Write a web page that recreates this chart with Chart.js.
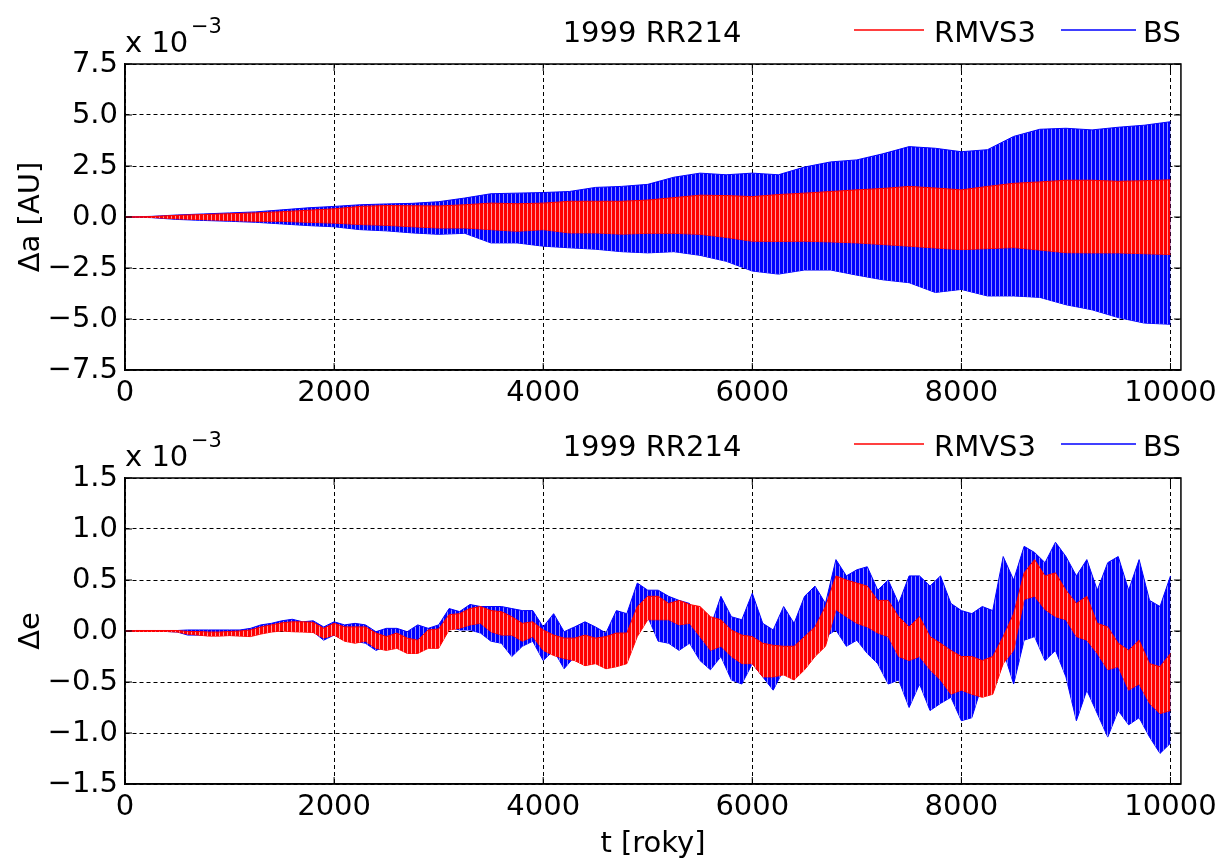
<!DOCTYPE html>
<html>
<head>
<meta charset="utf-8">
<title>1999 RR214</title>
<script src="https://cdn.jsdelivr.net/npm/chart.js@4.4.1/dist/chart.umd.min.js"></script>
<style>
  html, body { margin: 0; padding: 0; background: #fff; }
  #wrap { position: relative; width: 1223px; height: 859px; }
  canvas { position: absolute; left: 0; }
  #topChart { top: 0; }
  #bottomChart { top: 414px; }
</style>
</head>
<body>
<div id="wrap">
  <canvas id="topChart" width="1223" height="414"></canvas>
  <canvas id="bottomChart" width="1223" height="445"></canvas>
</div>
<script>
// ---- data (values in units of 10^-3) ----

// top panel: delta a, envelope of the oscillation every 250 years
const yearsA = [0, 250, 500, 750, 1000, 1250, 1500, 1750, 2000, 2250, 2500, 2750, 3000, 3250, 3500, 3750, 4000, 4250, 4500, 4750, 5000,
	5250, 5500, 5750, 6000, 6250, 6500, 6750, 7000, 7250, 7500, 7750, 8000, 8250, 8500, 8750, 9000, 9250, 9500, 9750, 10000];
const rmvsHiA = [0, 0.02, 0.08, 0.12, 0.16, 0.2, 0.26, 0.33, 0.4, 0.52, 0.56, 0.55, 0.54, 0.6, 0.68, 0.65, 0.68, 0.77, 0.77, 0.77, 0.83,
	0.95, 1.07, 1.05, 1.0, 1.1, 1.17, 1.25, 1.33, 1.4, 1.5, 1.42, 1.33, 1.5, 1.65, 1.72, 1.8, 1.8, 1.75, 1.78, 1.82];
const rmvsLoA = [0, -0.02, -0.09, -0.13, -0.17, -0.21, -0.21, -0.26, -0.3, -0.37, -0.41, -0.48, -0.54, -0.54, -0.62, -0.7, -0.62, -0.78, -0.78, -0.84, -0.8,
	-0.8, -0.85, -1.0, -1.19, -1.2, -1.19, -1.22, -1.27, -1.35, -1.43, -1.52, -1.6, -1.55, -1.5, -1.62, -1.75, -1.76, -1.76, -1.8, -1.84];
const bsHiA = [0, 0.03, 0.1, 0.15, 0.2, 0.25, 0.35, 0.45, 0.52, 0.6, 0.64, 0.67, 0.75, 0.93, 1.14, 1.17, 1.2, 1.25, 1.45, 1.5, 1.6,
	1.95, 2.15, 2.07, 2.15, 2.07, 2.45, 2.7, 2.8, 3.1, 3.45, 3.37, 3.2, 3.3, 3.95, 4.3, 4.35, 4.27, 4.4, 4.5, 4.67];
const bsLoA = [0, -0.03, -0.12, -0.17, -0.21, -0.26, -0.34, -0.42, -0.48, -0.62, -0.68, -0.78, -0.85, -0.8, -1.27, -1.27, -1.43, -1.51, -1.58, -1.7, -1.76,
	-1.7, -1.88, -2.17, -2.65, -2.8, -2.6, -2.6, -2.85, -3.08, -3.22, -3.7, -3.55, -3.87, -3.87, -3.94, -4.3, -4.55, -4.93, -5.2, -5.26];

// bottom panel: delta e, envelope every 100 years
const yearsE = [0, 100, 200, 300, 400, 500, 600, 700, 800, 900, 1000, 1100, 1200, 1300, 1400, 1500, 1600, 1700, 1800, 1900,
	2000, 2100, 2200, 2300, 2400, 2500, 2600, 2700, 2800, 2900, 3000, 3100, 3200, 3300, 3400, 3500, 3600, 3700, 3800, 3900,
	4000, 4100, 4200, 4300, 4400, 4500, 4600, 4700, 4800, 4900, 5000, 5100, 5200, 5300, 5400, 5500, 5600, 5700, 5800, 5900,
	6000, 6100, 6200, 6300, 6400, 6500, 6600, 6700, 6800, 6900, 7000, 7100, 7200, 7300, 7400, 7500, 7600, 7700, 7800, 7900,
	8000, 8100, 8200, 8300, 8400, 8500, 8600, 8700, 8800, 8900, 9000, 9100, 9200, 9300, 9400, 9500, 9600, 9700, 9800, 9900, 10000];
const rmvsHiE = [0, 0.005, 0.005, 0.005, 0.005, 0.005, -0.005, -0.005, -0.01, -0.01, -0.005, 0, 0.01, 0.04, 0.06, 0.08, 0.09, 0.09, 0.085, 0.026,
	0.075, 0.04, 0.04, 0.04, -0.02, -0.055, -0.02, -0.07, -0.09, 0.01, 0.02, 0.16, 0.17, 0.22, 0.24, 0.2, 0.19, 0.14, 0.075, 0.09,
	0.01, -0.04, -0.07, -0.07, -0.04, -0.07, -0.055, -0.02, -0.02, 0.24, 0.34, 0.34, 0.27, 0.3, 0.26, 0.24, 0.14, 0.11, 0.01, -0.04,
	-0.055, -0.12, -0.14, -0.15, -0.15, -0.055, 0.04, 0.24, 0.54, 0.5, 0.47, 0.44, 0.3, 0.3, 0.14, 0.04, 0.14, -0.055, -0.12, -0.19,
	-0.25, -0.25, -0.29, -0.25, -0.055, 0.17, 0.57, 0.7, 0.54, 0.57, 0.4, 0.27, 0.34, 0.075, 0.04, -0.12, -0.19, -0.09, -0.32, -0.35, -0.22];
const rmvsLoE = [0, -0.005, -0.005, -0.005, -0.005, -0.01, -0.03, -0.04, -0.05, -0.05, -0.045, -0.05, -0.055, -0.03, -0.01, 0, -0.007, -0.01, -0.015, -0.07,
	-0.04, -0.1, -0.12, -0.1, -0.17, -0.19, -0.17, -0.22, -0.22, -0.17, -0.17, 0.01, 0.026, 0.06, 0.075, -0.007, -0.04, -0.04, -0.1, -0.055,
	-0.19, -0.24, -0.27, -0.29, -0.34, -0.32, -0.37, -0.35, -0.32, -0.055, 0.11, 0.11, 0.11, 0.06, 0.075, -0.055, -0.19, -0.15, -0.25, -0.32,
	-0.32, -0.45, -0.45, -0.43, -0.48, -0.38, -0.25, -0.15, 0.21, 0.14, 0.075, 0.04, -0.02, -0.055, -0.25, -0.29, -0.25, -0.38, -0.48, -0.62,
	-0.58, -0.62, -0.65, -0.62, -0.32, -0.19, 0.31, 0.34, 0.21, 0.14, 0.11, -0.055, -0.09, -0.22, -0.38, -0.35, -0.58, -0.52, -0.71, -0.81, -0.78];
const bsHiE = [0, 0.005, 0.005, 0.005, 0.005, 0.005, 0.01, 0.01, 0.01, 0.01, 0.01, 0.01, 0.026, 0.06, 0.075, 0.1, 0.115, 0.09, 0.1, 0.04,
	0.09, 0.06, 0.075, 0.06, -0.007, 0.026, 0.026, -0.007, 0.06, 0.026, 0.06, 0.22, 0.19, 0.26, 0.24, 0.24, 0.24, 0.22, 0.2, 0.2,
	0.04, 0.17, -0.007, 0.04, 0.09, 0.04, -0.02, 0.2, 0.17, 0.47, 0.4, 0.4, 0.34, 0.3, 0.27, 0.14, 0.04, 0.34, 0.14, 0.11,
	0.37, 0.075, 0.01, 0.24, 0.075, 0.34, 0.44, 0.27, 0.7, 0.54, 0.6, 0.63, 0.4, 0.5, 0.27, 0.54, 0.54, 0.44, 0.54, 0.27,
	0.2, 0.17, 0.24, 0.2, 0.73, 0.5, 0.83, 0.77, 0.67, 0.87, 0.73, 0.54, 0.7, 0.4, 0.67, 0.73, 0.4, 0.7, 0.3, 0.24, 0.54];
const bsLoE = [0, -0.005, -0.005, -0.005, -0.005, -0.01, -0.04, -0.04, -0.04, -0.04, -0.04, -0.04, -0.04, -0.007, 0.01, 0.01, 0.026, 0.01, -0.007, -0.09,
	-0.04, -0.09, -0.1, -0.12, -0.19, -0.15, -0.12, -0.17, -0.1, -0.055, -0.04, 0.04, 0.01, 0.01, -0.02, -0.1, -0.12, -0.25, -0.15, -0.1,
	-0.29, -0.19, -0.37, -0.25, -0.29, -0.17, -0.25, -0.09, -0.04, 0.06, 0.14, -0.1, -0.12, -0.19, -0.12, -0.29, -0.38, -0.25, -0.48, -0.52,
	-0.32, -0.45, -0.58, -0.38, -0.48, -0.25, -0.22, -0.055, 0.01, -0.15, -0.09, -0.22, -0.32, -0.52, -0.48, -0.75, -0.52, -0.78, -0.71, -0.65,
	-0.88, -0.85, -0.52, -0.48, -0.19, -0.52, -0.09, -0.055, -0.29, -0.19, -0.45, -0.88, -0.58, -0.81, -1.04, -0.78, -0.92, -0.85, -1.04, -1.2, -1.1];

// axis ticks
const xTicks = [0, 2000, 4000, 6000, 8000, 10000];

// ---- style ----
const FONT = '"DejaVu Sans", sans-serif';
Chart.defaults.font.family = FONT;
Chart.defaults.font.size = 29;
Chart.defaults.color = "#000";

// vertical stripes so the bands look like dense oscillation strokes
function stripes(color, light) {
	const c = document.createElement("canvas");
	c.width = 4;
	c.height = 1;
	const g = c.getContext("2d");
	g.fillStyle = color;
	g.fillRect(0, 0, 3, 1);
	g.fillStyle = light;
	g.fillRect(3, 0, 1, 1);
	return g.createPattern(c, "repeat");
}

function band(label, xs, hi, lo, color, pattern) {
	return [
		{
			label: label,
			data: xs.map((x, i) => ({ x: x, y: hi[i] })),
			borderColor: color,
			backgroundColor: pattern,
			fill: "+1",
			borderWidth: 1,
			pointRadius: 0,
			tension: 0,
		},
		{
			label: label + " min",
			data: xs.map((x, i) => ({ x: x, y: lo[i] })),
			borderColor: color,
			borderWidth: 1,
			pointRadius: 0,
			fill: false,
			tension: 0,
		},
	];
}

function fmt(v) {
	if (Math.abs(v) < 1e-9) v = 0;
	return v.toFixed(1).replace("-", "\u2212");
}

// box, inner ticks, exponent, title and legend
const framePlugin = {
	id: "frame",
	afterDraw(chart) {
		const { ctx, chartArea: a, scales } = chart;
		ctx.save();
		ctx.strokeStyle = "#000";
		ctx.lineWidth = 1;
		ctx.setLineDash([]);
		ctx.beginPath();
		xTicks.forEach((t) => {
			const px = scales.x.getPixelForValue(t);
			ctx.moveTo(px, a.top);
			ctx.lineTo(px, a.top + 7);
			ctx.moveTo(px, a.bottom);
			ctx.lineTo(px, a.bottom - 7);
		});
		scales.y.ticks.forEach((t) => {
			const py = scales.y.getPixelForValue(t.value);
			ctx.moveTo(a.left, py);
			ctx.lineTo(a.left + 7, py);
			ctx.moveTo(a.right, py);
			ctx.lineTo(a.right - 7, py);
		});
		ctx.stroke();
		ctx.lineWidth = 1.5;
		ctx.strokeRect(a.left, a.top, a.right - a.left, a.bottom - a.top);

		ctx.fillStyle = "#000";
		ctx.textBaseline = "alphabetic";
		ctx.textAlign = "left";
		ctx.font = "29px " + FONT;
		ctx.fillText("x 10", a.left, a.top - 12);
		ctx.font = "21px " + FONT;
		ctx.fillText("\u22123", a.left + 66, a.top - 31);

		ctx.font = "29px " + FONT;
		ctx.textAlign = "center";
		ctx.fillText("1999 RR214", 652, a.top - 22);

		// legend
		ctx.lineWidth = 1.5;
		ctx.strokeStyle = "#ff0000";
		ctx.beginPath();
		ctx.moveTo(854, a.top - 34);
		ctx.lineTo(924, a.top - 34);
		ctx.stroke();
		ctx.strokeStyle = "#0000ff";
		ctx.beginPath();
		ctx.moveTo(1061, a.top - 34);
		ctx.lineTo(1136, a.top - 34);
		ctx.stroke();
		ctx.textAlign = "left";
		ctx.fillText("RMVS3", 934, a.top - 22);
		ctx.fillText("BS", 1143, a.top - 22);
		ctx.restore();
	},
};

function makeChart(id, xs, rHi, rLo, bHi, bLo, yMin, yMax, yStep, yTitle, xTitle, xHeight) {
	const red = stripes("#ff0000", "#ff9c9c");
	const blue = stripes("#0000ff", "#8c8cff");
	const datasets = band("RMVS3", xs, rHi, rLo, "#ff0000", red).concat(band("BS", xs, bHi, bLo, "#0000ff", blue));
	return new Chart(document.getElementById(id), {
		type: "line",
		data: { datasets: datasets },
		options: {
			responsive: false,
			animation: false,
			devicePixelRatio: 1,
			layout: { padding: { top: 64, right: 40, left: 0, bottom: 0 } },
			plugins: { legend: { display: false }, tooltip: { enabled: false } },
			scales: {
				x: {
					type: "linear",
					min: 0,
					max: 10100,
					afterFit: (s) => { s.height = xHeight; },
					afterBuildTicks: (s) => { s.ticks = xTicks.map((v) => ({ value: v })); },
					ticks: { padding: 6, maxRotation: 0, callback: (v) => String(v) },
					grid: { color: "#000", lineWidth: 1, drawTicks: false },
					border: { color: "#000", width: 1.5, dash: [4, 3] },
					title: xTitle ? { display: true, text: xTitle, font: { size: 29, lineHeight: 1.0 }, padding: { top: 0, bottom: 0 } } : { display: false },
				},
				y: {
					type: "linear",
					min: yMin,
					max: yMax,
					afterFit: (s) => { s.width = 125; },
					ticks: { stepSize: yStep, padding: 7, callback: (v) => fmt(v) },
					grid: { color: "#000", lineWidth: 1, drawTicks: false },
					border: { color: "#000", width: 1.5, dash: [4, 3] },
					title: { display: true, text: yTitle, font: { size: 29 }, padding: { top: 14, bottom: 0 } },
				},
			},
		},
		plugins: [framePlugin],
	});
}

makeChart("topChart", yearsA, rmvsHiA, rmvsLoA, bsHiA, bsLoA, -7.5, 7.5, 2.5, "\u0394a [AU]", null, 44);
makeChart("bottomChart", yearsE, rmvsHiE, rmvsLoE, bsHiE, bsLoE, -1.5, 1.5, 0.5, "\u0394e", "t [roky]", 75);
</script>
</body>
</html>
